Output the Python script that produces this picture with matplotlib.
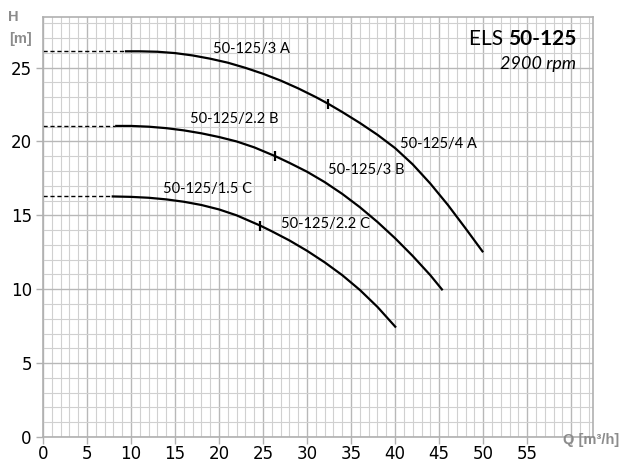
import matplotlib.pyplot as plt
from matplotlib.ticker import MultipleLocator

# pump curves
q_a = [9.3, 11, 13, 15, 17, 19, 21, 23, 25, 27, 29, 31, 32.4, 34, 36, 38, 40, 42, 44, 46, 48, 50]
h_a = [26.1, 26.1, 26.07, 25.98, 25.82, 25.6, 25.33, 24.98, 24.58, 24.12, 23.59, 23.0, 22.55,
       21.99, 21.25, 20.45, 19.55, 18.45, 17.15, 15.7, 14.12, 12.5]
q_b = [8.2, 10, 12, 14, 16, 18, 20, 22, 24, 26.4, 28, 30, 32, 34, 36, 38, 40, 42, 44, 45.4]
h_b = [21.05, 21.05, 21.0, 20.9, 20.75, 20.55, 20.3, 20.0, 19.6, 19.0, 18.55, 17.95, 17.25,
       16.45, 15.55, 14.55, 13.45, 12.25, 10.95, 9.93]
q_c = [7.8, 10, 12, 14, 16, 18, 20, 22, 24.7, 26, 28, 30, 32, 34, 36, 38, 40.1]
h_c = [16.28, 16.25, 16.19, 16.08, 15.92, 15.7, 15.4, 15.0, 14.3, 13.92, 13.3, 12.6, 11.82,
       10.95, 9.95, 8.8, 7.41]

# motor change points on each curve
mark_q = [32.4, 26.4, 24.7]
mark_h = [22.55, 19.0, 14.3]

labels = ["50-125/3 A", "50-125/4 A", "50-125/2.2 B", "50-125/3 B", "50-125/1.5 C", "50-125/2.2 C"]
label_q = [19.3, 40.6, 16.7, 32.4, 13.6, 27.0]
label_h = [26.25, 19.85, 21.5, 18.05, 16.8, 14.4]

x_ticks = [0, 5, 10, 15, 20, 25, 30, 35, 40, 45, 50, 55, 60]
x_ticklabels = ["0", "5", "10", "15", "20", "25", "30", "35", "40", "45", "50", "55", ""]
y_ticks = [0, 5, 10, 15, 20, 25]

gray = "#8c8c8c"
narrow = ["Liberation Sans Narrow", "DejaVu Sans"]

fig = plt.figure(figsize=(6.21, 4.62), dpi=100)
ax = fig.add_axes([0.0692, 0.0541, 0.886, 0.910])

ax.set_xlim(0, 62.5)
ax.set_ylim(0, 28.45)

ax.xaxis.set_minor_locator(MultipleLocator(1))
ax.yaxis.set_minor_locator(MultipleLocator(1))
ax.grid(which="minor", color="#d0d0d0", lw=0.8)
ax.grid(which="major", color="#b8b8b8", lw=1.0)
ax.set_axisbelow(True)

for s in ax.spines.values():
    s.set_color("#b0b0b0")
    s.set_linewidth(1.2)

ax.set_xticks(x_ticks)
ax.set_xticklabels(x_ticklabels, fontfamily=narrow, fontsize=12)
ax.set_yticks(y_ticks)
ax.set_yticklabels([str(v) for v in y_ticks], fontfamily=narrow, fontsize=12)
ax.tick_params(which="major", length=5, color="#b0b0b0", width=1)
ax.tick_params(axis="x", pad=1)
ax.tick_params(axis="y", pad=3)
ax.tick_params(which="minor", length=0)

for q, h in [(q_a, h_a), (q_b, h_b), (q_c, h_c)]:
    ax.plot([0, q[0]], [h[0], h[0]], color="black", lw=1, ls=(0, (3, 2)))
    ax.plot(q, h, color="black", lw=1.6, solid_capstyle="butt", solid_joinstyle="round")

ax.plot(mark_q, mark_h, ls="none", marker="|", ms=7, mew=1.6, color="black")

for t, q, h in zip(labels, label_q, label_h):
    ax.text(q, h, t, fontsize=10.5, family="Lato", ha="left", va="center")

bold = ax.text(60.6, 26.9, "50-125", fontsize=15, family="Lato", fontweight="bold",
               ha="right", va="center")
ax.annotate("ELS ", xy=(0, 0.5), xycoords=bold, fontsize=15, family="Lato",
            ha="right", va="center")
ax.text(60.6, 25.25, "2900 rpm", fontsize=13, family="Lato", style="italic",
        ha="right", va="center")

fig.text(13 / 621, 1 - 17 / 462, "H", color=gray, fontsize=10.5, fontweight="bold",
         family="Liberation Sans", ha="center", va="center")
fig.text(21 / 621, 1 - 39 / 462, "[m]", color=gray, fontsize=10.5, fontweight="bold",
         family="Liberation Sans", ha="center", va="center")
fig.text(591 / 621, 1 - 440 / 462, "Q [m³/h]", color=gray, fontsize=10.5, fontweight="bold",
         family="Liberation Sans", ha="center", va="center")

fig.savefig("out.png", dpi=100)
